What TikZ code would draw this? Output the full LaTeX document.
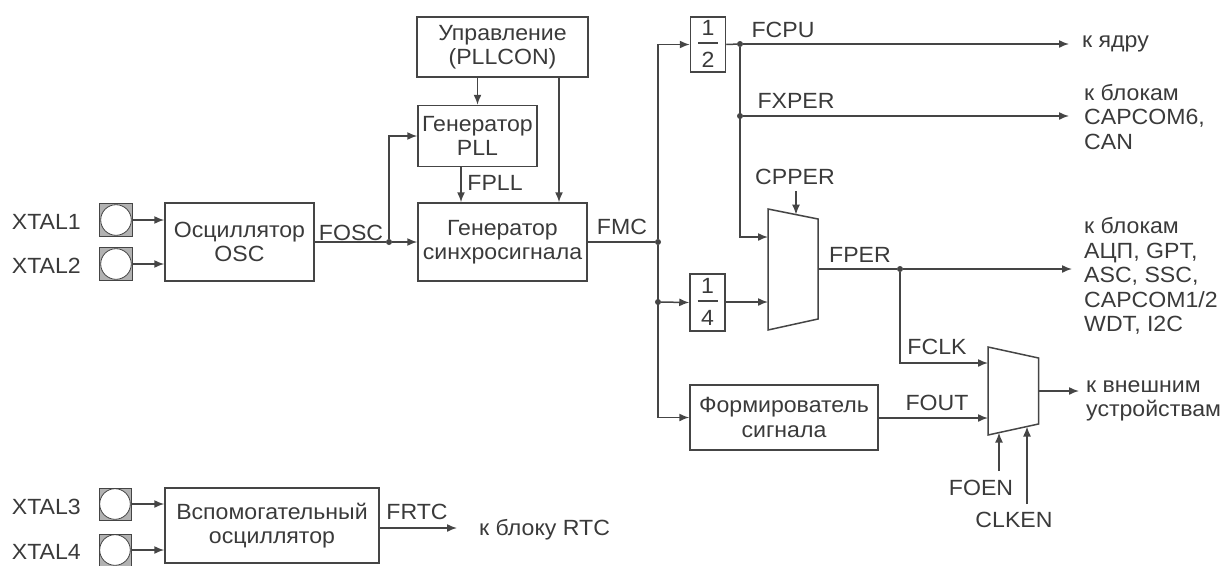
\documentclass[tikz,border=0pt]{standalone}
\usepackage{fontspec}
\setmainfont{Liberation Sans}[FakeStretch=1.05]
\usetikzlibrary{arrows.meta}
\definecolor{lncol}{HTML}{454545}
\definecolor{txtcol}{HTML}{3A3A3A}
\begin{document}
\begin{tikzpicture}[x=1pt,y=-1pt,
  every node/.style={font=\fontsize{22}{24.5}\selectfont, text=txtcol},
  box/.style={draw=lncol, line width=1.5pt, inner sep=0pt, align=center},
  ln/.style={draw=lncol, line width=1.5pt},
  arr/.style={draw=lncol, line width=1.5pt, -{Latex[length=10pt,width=8pt]}},
  dot/.style={circle, fill=lncol, inner sep=0pt, minimum size=6pt},
  lbl/.style={inner sep=0pt},
  outtxt/.style={inner sep=0pt, anchor=west, align=left},
  pad/.style={draw=lncol, line width=1pt, minimum size=33pt, inner sep=0pt, fill=gray!60,
    path picture={\fill[white] (path picture bounding box.center) circle (15.3pt);
                  \draw[lncol, line width=0.8pt] (path picture bounding box.center) circle (15.3pt);}},
]
\useasboundingbox (0,0) rectangle (1221,565);

% ---- main oscillator
\node[lbl, anchor=east] (x1) at (81,222) {XTAL1};
\node[lbl, anchor=east] (x2) at (81,266) {XTAL2};
\node[pad] (p1) at (116,220) {};
\node[pad] (p2) at (116,264) {};
\node[box, minimum width=149pt, minimum height=78pt] (osc) at (239.5,242) {Осциллятор\\OSC};
\draw[arr] (p1.east) -- (osc.west |- p1.east);
\draw[arr] (p2.east) -- (osc.west |- p2.east);

% ---- PLL section
\node[box, minimum width=171pt, minimum height=60pt] (upr) at (502.5,47) {Управление\\(PLLCON)};
\node[box, minimum width=119pt, minimum height=61pt] (pll) at (477.5,136) {Генератор\\PLL};
\node[box, minimum width=169pt, minimum height=78pt] (gen) at (502.5,242) {Генератор\\синхросигнала};
\node[dot] (j1) at (389,242) {};
\draw[ln] (osc.east) -- (j1);
\draw[arr] (j1) -- (gen.west);
\draw[arr] (j1) |- (pll.west);
\node[lbl] (fosc) at (351,233) {FOSC};
\draw[arr] (upr.south -| pll.north) -- (pll.north);
\draw[arr] (upr.south -| 559,0) -- (gen.north -| 559,0);
\draw[arr] (pll.south -| 461,0) -- (gen.north -| 461,0);
\node[lbl] (fpll) at (495,183) {FPLL};

% ---- FMC distribution
\node[dot] (j2) at (658,242) {};
\node[dot] (j4) at (658,302) {};
\draw[ln] (gen.east) -- (j2);
\node[lbl] (fmc) at (622,227) {FMC};

\node[box, minimum width=35pt, minimum height=55pt] (half) at (708,44.5) {};
\node[lbl] (half1) at (708,28) {1};
\node[lbl] (half2) at (708,60) {2};
\draw[lncol, line width=1.2pt] (698,43) -- (718,43);

\node[box, minimum width=35pt, minimum height=57pt] (quarter) at (707.5,302.5) {};
\node[lbl] (q1) at (707.5,286) {1};
\node[lbl] (q2) at (707.5,318) {4};
\draw[lncol, line width=1.2pt] (697.5,301) -- (717.5,301);

\node[box, minimum width=188pt, minimum height=65pt] (form) at (784,417.5) {Формирователь\\сигнала};

\draw[arr] (j2) |- (half.west);
\draw[arr] (j2) |- (form.west);
\draw[arr] (j4) -- (quarter.west);

% ---- multiplexer 1
\draw[ln, line join=miter] (768,209) -- (818,219) -- (818,319) -- (768,330) -- cycle;
\coordinate (m1i1) at (768,237);
\coordinate (m1i2) at (768,302);
\coordinate (m1s) at (796,214.6);
\coordinate (m1o) at (818,269);

% FCPU / FXPER
\node[dot] (j3) at (740,44) {};
\node[dot] (j5) at (740,116) {};
\coordinate (cpu) at (1069,44);
\coordinate (xper) at (1069,116);
\draw[ln] (half.east) -- (j3);
\draw[arr] (j3) -- (cpu);
\draw[arr] (j5) -- (xper);
\draw[arr] (j3) |- (m1i1);
\node[lbl] (fcpu) at (783,30) {FCPU};
\node[lbl] (fxper) at (796,101) {FXPER};
\node[outtxt] (tcore) at (1082,44) {к ядру};
\node[outtxt] (tcap6) at (1084,117) {к блокам\\CAPCOM6,\\CAN};

\node[lbl] (cpper) at (795,177) {CPPER};
\coordinate (cpp) at (796,191);
\draw[arr] (cpp) -- (m1s);
\draw[arr] (quarter.east |- m1i2) -- (m1i2);

% FPER
\node[dot] (j6) at (900,269) {};
\coordinate (per) at (1072,269);
\draw[ln] (m1o) -- (j6);
\draw[arr] (j6) -- (per);
\node[lbl] (fper) at (860,255) {FPER};
\node[outtxt] (tper) at (1084,276) {к блокам\\АЦП, GPT,\\ASC, SSC,\\CAPCOM1/2\\WDT, I2C};

% ---- multiplexer 2
\draw[ln, line join=miter] (988,347) -- (1038.5,358) -- (1038.5,424) -- (988,435) -- cycle;
\coordinate (m2i1) at (988,363);
\coordinate (m2i2) at (988,418);
\coordinate (m2o) at (1038.5,391);
\coordinate (m2s1) at (999,432.6);
\coordinate (m2s2) at (1027,426.5);
\draw[arr] (j6) |- (m2i1);
\node[lbl] (fclk) at (937,347) {FCLK};
\draw[arr] (form.east |- m2i2) -- (m2i2);
\node[lbl] (fout) at (937,403) {FOUT};
\coordinate (ext) at (1079,391);
\draw[arr] (m2o) -- (ext);
\node[outtxt] (text) at (1086,401) {к внешним\\устройствам};
\coordinate (foen) at (999,471);
\coordinate (clken) at (1027,504);
\draw[arr] (foen) -- (m2s1);
\draw[arr] (clken) -- (m2s2);
\node[lbl] (tfoen) at (981,488) {FOEN};
\node[lbl] (tclken) at (1014,520) {CLKEN};

% ---- auxiliary oscillator
\node[lbl, anchor=east] (x3) at (81,507) {XTAL3};
\node[lbl, anchor=east] (x4) at (81,552) {XTAL4};
\node[pad, minimum size=32pt] (p3) at (115,504) {};
\node[pad, minimum size=32pt] (p4) at (115,550) {};
\node[box, minimum width=214pt, minimum height=75pt] (aux) at (272,525.5) {Вспомогательный\\осциллятор};
\draw[arr] (p3.east) -- (aux.west |- p3.east);
\draw[arr] (p4.east) -- (aux.west |- p4.east);
\coordinate (rtc) at (457,528);
\draw[arr] (aux.east |- rtc) -- (rtc);
\node[lbl] (frtc) at (417,512) {FRTC};
\node[outtxt] (trtc) at (479,530) {к блоку RTC};
\end{tikzpicture}
\end{document}
